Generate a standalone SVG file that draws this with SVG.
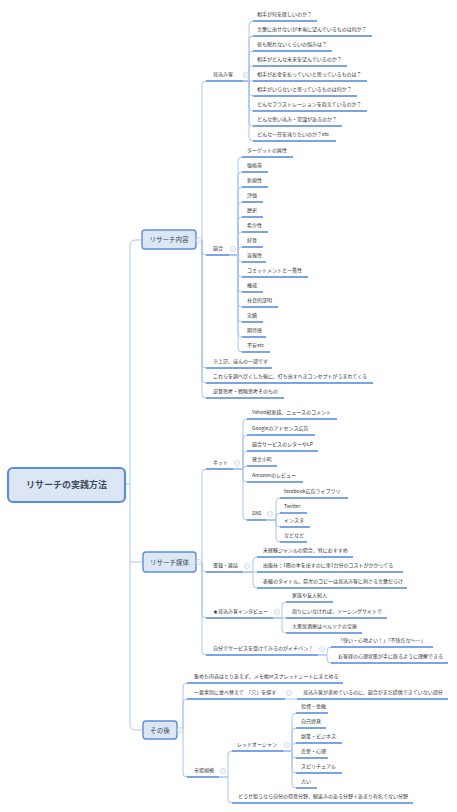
<svg xmlns="http://www.w3.org/2000/svg" width="457" height="812" viewBox="0 0 457 812">
<style>
text{font-family:"Noto Sans CJK JP","Noto Sans",sans-serif;font-size:5px;fill:#333}
.c{fill:none;stroke:#a9c5ef;stroke-width:1}
.u{fill:none;stroke:#4e86de;stroke-width:1.5}
.n{fill:#dce6f4;stroke:#5a8edb;stroke-width:1.4}
.nt{font-size:6.5px;fill:#3e4b61;text-anchor:middle}
.rt{font-size:9px;font-weight:bold;fill:#3e4b61;text-anchor:middle}
.k circle{fill:#fff;stroke:#b5c5db;stroke-width:0.6}
.k path{stroke:#b5c5db;stroke-width:0.6}
</style>
<rect width="457" height="812" fill="#fff"/>
<g id="connectors">
<path class="c" d="M125,484 H130 V246 Q130,240 136,240 H142"/>
<path class="c" d="M130,484 V724 Q130,730 136,730 H143"/>
<path class="c" d="M130,562 H143"/>
<path class="c" d="M196,240 H202 V85 Q202,81 206,81"/>
<path class="c" d="M196,240 H202 V251 Q202,255 206,255"/>
<path class="c" d="M196,240 H202 V364 Q202,368 206,368"/>
<path class="c" d="M196,240 H202 V379 Q202,383 206,383"/>
<path class="c" d="M196,240 H202 V394 Q202,398 206,398"/>
<path class="c" d="M243,81 H249 V25 Q249,21 253,21"/>
<path class="c" d="M243,81 H249 V40 Q249,36 253,36"/>
<path class="c" d="M243,81 H249 V55 Q249,51 253,51"/>
<path class="c" d="M243,81 H249 V70 Q249,66 253,66"/>
<path class="c" d="M243,81 H253"/>
<path class="c" d="M243,81 H249 V92 Q249,96 253,96"/>
<path class="c" d="M243,81 H249 V107 Q249,111 253,111"/>
<path class="c" d="M243,81 H249 V122 Q249,126 253,126"/>
<path class="c" d="M243,81 H249 V137 Q249,141 253,141"/>
<path class="c" d="M229,255 H238 V161 Q238,157 242,157"/>
<path class="c" d="M229,255 H238 V176 Q238,172 242,172"/>
<path class="c" d="M229,255 H238 V191 Q238,187 242,187"/>
<path class="c" d="M229,255 H238 V206 Q238,202 242,202"/>
<path class="c" d="M229,255 H238 V221 Q238,217 242,217"/>
<path class="c" d="M229,255 H238 V236 Q238,232 242,232"/>
<path class="c" d="M229,255 H238 V251 Q238,247 242,247"/>
<path class="c" d="M229,255 H238 V258 Q238,262 242,262"/>
<path class="c" d="M229,255 H238 V273 Q238,277 242,277"/>
<path class="c" d="M229,255 H238 V288 Q238,292 242,292"/>
<path class="c" d="M229,255 H238 V303 Q238,307 242,307"/>
<path class="c" d="M229,255 H238 V318 Q238,322 242,322"/>
<path class="c" d="M229,255 H238 V333 Q238,337 242,337"/>
<path class="c" d="M229,255 H238 V348 Q238,352 242,352"/>
<path class="c" d="M196,562 H202 V473 Q202,469 206,469"/>
<path class="c" d="M196,562 H202 V568 Q202,572 206,572"/>
<path class="c" d="M196,562 H202 V614 Q202,618 206,618"/>
<path class="c" d="M196,562 H202 V651 Q202,655 206,655"/>
<path class="c" d="M233,469 H243 V423 Q243,419 247,419"/>
<path class="c" d="M233,469 H243 V439 Q243,435 247,435"/>
<path class="c" d="M233,469 H243 V455 Q243,451 247,451"/>
<path class="c" d="M233,469 H243 V470 Q243,466 247,466"/>
<path class="c" d="M233,469 H243 V478 Q243,482 247,482"/>
<path class="c" d="M233,469 H243 V516 Q243,520 247,520"/>
<path class="c" d="M266,520 H276 V502 Q276,498 280,498"/>
<path class="c" d="M266,520 H276 V517 Q276,513 280,513"/>
<path class="c" d="M266,520 H276 V523 Q276,527 280,527"/>
<path class="c" d="M266,520 H276 V538 Q276,542 280,542"/>
<path class="c" d="M243,572 H253 V561 Q253,557 257,557"/>
<path class="c" d="M243,572 H257"/>
<path class="c" d="M243,572 H253 V584 Q253,588 257,588"/>
<path class="c" d="M273,618 H282 V606 Q282,602 286,602"/>
<path class="c" d="M273,618 H286"/>
<path class="c" d="M273,618 H282 V629 Q282,633 286,633"/>
<path class="c" d="M318,655 H327 V651 Q327,647 331,647"/>
<path class="c" d="M318,655 H327 V659 Q327,663 331,663"/>
<path class="c" d="M177,730 H183 V687 Q183,683 187,683"/>
<path class="c" d="M177,730 H183 V703 Q183,699 187,699"/>
<path class="c" d="M177,730 H183 V773 Q183,777 187,777"/>
<path class="c" d="M285,699 H297"/>
<path class="c" d="M219,777 H228 V755 Q228,751 232,751"/>
<path class="c" d="M219,777 H228 V799 Q228,803 232,803"/>
<path class="c" d="M282,751 H292 V717 Q292,713 296,713"/>
<path class="c" d="M282,751 H292 V732 Q292,728 296,728"/>
<path class="c" d="M282,751 H292 V747 Q292,743 296,743"/>
<path class="c" d="M282,751 H292 V754 Q292,758 296,758"/>
<path class="c" d="M282,751 H292 V769 Q292,773 296,773"/>
<path class="c" d="M282,751 H292 V784 Q292,788 296,788"/>
</g>
<g id="root"><rect class="n" x="8" y="468" width="117" height="34" rx="5" style="stroke-width:2.2"/><text class="rt" x="66.5" y="487.5">リサーチの実践方法</text></g>
<g id="n-naiyou"><rect class="n" x="142" y="230" width="54" height="19" rx="3"/><text class="nt" x="169" y="242">リサーチ内容</text></g>
<g id="n-baitai"><rect class="n" x="143" y="552" width="53" height="20" rx="3"/><text class="nt" x="169.5" y="564.5">リサーチ媒体</text></g>
<g id="n-sonogo"><rect class="n" x="143" y="721" width="34" height="18" rx="3"/><text class="nt" x="160" y="732.5">その後</text></g>
<g id="n-mikomi"><path class="u" d="M206,81 H243"/><text x="213" y="76">見込み客</text></g>
<g id="m1"><path class="u" d="M253,21 H317"/><text x="257" y="16">相手が何を欲しいのか？</text></g>
<g id="m2"><path class="u" d="M253,36 H372"/><text x="257" y="31">言葉に出せないが本当に望んでいるものは何か？</text></g>
<g id="m3"><path class="u" d="M253,51 H332"/><text x="257" y="46">夜も眠れないくらいの悩みは？</text></g>
<g id="m4"><path class="u" d="M253,66 H347"/><text x="257" y="61">相手がどんな未来を望んでいるのか？</text></g>
<g id="m5"><path class="u" d="M253,81 H367"/><text x="257" y="76">相手がお金を払っていいと思っているものは？</text></g>
<g id="m6"><path class="u" d="M253,96 H357"/><text x="257" y="91">相手がいらないと思っているものは何か？</text></g>
<g id="m7"><path class="u" d="M253,111 H367"/><text x="257" y="106">どんなフラストレーションを抱えているのか？</text></g>
<g id="m8"><path class="u" d="M253,126 H342"/><text x="257" y="121">どんな思い込み・常識があるのか？</text></g>
<g id="m9"><path class="u" d="M253,141 H336"/><text x="257" y="136">どんな一日を送りたいのか？etc</text></g>
<g id="n-kyougou"><path class="u" d="M206,255 H229"/><text x="213" y="250">競合</text></g>
<g id="k1"><path class="u" d="M242,157 H293"/><text x="247" y="152">ターゲットの属性</text></g>
<g id="k2"><path class="u" d="M242,172 H268"/><text x="247" y="167">価格帯</text></g>
<g id="k3"><path class="u" d="M242,187 H268"/><text x="247" y="182">新規性</text></g>
<g id="k4"><path class="u" d="M242,202 H263"/><text x="247" y="197">評価</text></g>
<g id="k5"><path class="u" d="M242,217 H263"/><text x="247" y="212">歴史</text></g>
<g id="k6"><path class="u" d="M242,232 H268"/><text x="247" y="227">希少性</text></g>
<g id="k7"><path class="u" d="M242,247 H263"/><text x="247" y="242">好意</text></g>
<g id="k8"><path class="u" d="M242,262 H266"/><text x="247" y="257">返報性</text></g>
<g id="k9"><path class="u" d="M242,277 H308"/><text x="247" y="272">コミットメントと一貫性</text></g>
<g id="k10"><path class="u" d="M242,292 H263"/><text x="247" y="287">権威</text></g>
<g id="k11"><path class="u" d="M242,307 H278"/><text x="247" y="302">社会的証明</text></g>
<g id="k12"><path class="u" d="M242,322 H263"/><text x="247" y="317">実績</text></g>
<g id="k13"><path class="u" d="M242,337 H266"/><text x="247" y="332">期待感</text></g>
<g id="k14"><path class="u" d="M242,352 H270"/><text x="247" y="347">不安etc</text></g>
<g id="n-note1"><path class="u" d="M206,368 H272"/><text x="213" y="363">※上記、ほんの一部です</text></g>
<g id="n-note2"><path class="u" d="M206,383 H373"/><text x="213" y="378">これらを調べ尽くした後に、打ち出すべきコンセプトがうまれてくる</text></g>
<g id="n-note3"><path class="u" d="M206,398 H284"/><text x="213" y="393">逆算思考・戦略思考そのもの</text></g>
<g id="n-net"><path class="u" d="M206,469 H233"/><text x="213" y="464">ネット</text></g>
<g id="w1"><path class="u" d="M247,419 H337"/><text x="252" y="414">Yahoo知恵袋、ニュースのコメント</text></g>
<g id="w2"><path class="u" d="M247,435 H315"/><text x="252" y="430">Googleのアドセンス広告</text></g>
<g id="w3"><path class="u" d="M247,451 H318"/><text x="252" y="446">競合サービスのレターやLP</text></g>
<g id="w4"><path class="u" d="M247,466 H277"/><text x="252" y="461">発言小町</text></g>
<g id="w5"><path class="u" d="M247,482 H303"/><text x="252" y="477">Amazonのレビュー</text></g>
<g id="n-sns"><path class="u" d="M247,520 H266"/><text x="252" y="515">SNS</text></g>
<g id="s1"><path class="u" d="M280,498 H348"/><text x="284" y="493">facebook広告ライブラリ</text></g>
<g id="s2"><path class="u" d="M280,513 H307"/><text x="284" y="508">Twitter</text></g>
<g id="s3"><path class="u" d="M280,527 H310"/><text x="284" y="522">インスタ</text></g>
<g id="s4"><path class="u" d="M280,542 H307"/><text x="284" y="537">などなど</text></g>
<g id="n-book"><path class="u" d="M206,572 H243"/><text x="213" y="567">書籍・雑誌</text></g>
<g id="b1"><path class="u" d="M257,557 H353"/><text x="263" y="552">未経験ジャンルの場合、特におすすめ</text></g>
<g id="b2"><path class="u" d="M257,572 H403"/><text x="263" y="567">出版社：1冊の本を出すのに車1台分のコストがかかってる</text></g>
<g id="b3"><path class="u" d="M257,588 H407"/><text x="263" y="583">表紙のタイトル、目次のコピーは見込み客に刺さる言葉だらけ</text></g>
<g id="n-interview"><path class="u" d="M206,618 H273"/><text x="213" y="613">★見込み客インタビュー</text></g>
<g id="i1"><path class="u" d="M286,602 H333"/><text x="292" y="597">家族や友人知人</text></g>
<g id="i2"><path class="u" d="M286,618 H387"/><text x="292" y="613">周りにいなければ、ソーシングサイトで</text></g>
<g id="i3"><path class="u" d="M286,633 H362"/><text x="292" y="628">大衆居酒屋はペルソナの宝庫</text></g>
<g id="n-self"><path class="u" d="M206,655 H318"/><text x="213" y="650">自分でサービスを受けてみるのがイチバン！</text></g>
<g id="f1"><path class="u" d="M331,647 H433"/><text x="338" y="642">「快い・心地よい！」「不快だな〜…」</text></g>
<g id="f2"><path class="u" d="M331,663 H448"/><text x="338" y="658">お客様の心理状態が手に取るように理解できる</text></g>
<g id="n-memo"><path class="u" d="M187,683 H343"/><text x="194" y="678">集めた内容はとりあえず、メモ帳orスプレッドシートにまとめる</text></g>
<g id="n-ana"><path class="u" d="M187,699 H285"/><text x="194" y="694">一要素別に並べ替えて　「穴」を探す</text></g>
<g id="a1"><path class="u" d="M297,699 H448"/><text x="303" y="694">見込み客が求めているのに、競合がまだ提供できていない部分</text></g>
<g id="n-market"><path class="u" d="M187,777 H219"/><text x="194" y="772">市場規模</text></g>
<g id="n-red"><path class="u" d="M232,751 H283"/><text x="237" y="746">レッドオーシャン</text></g>
<g id="r1"><path class="u" d="M296,713 H328"/><text x="301" y="708">投資・金融</text></g>
<g id="r2"><path class="u" d="M296,728 H326"/><text x="301" y="723">自己啓発</text></g>
<g id="r3"><path class="u" d="M296,743 H342"/><text x="301" y="738">副業・ビジネス</text></g>
<g id="r4"><path class="u" d="M296,758 H328"/><text x="301" y="753">恋愛・心理</text></g>
<g id="r5"><path class="u" d="M296,773 H342"/><text x="301" y="768">スピリチュアル</text></g>
<g id="r6"><path class="u" d="M296,788 H317"/><text x="301" y="783">占い</text></g>
<g id="n-niche"><path class="u" d="M232,803 H413"/><text x="238" y="798">どうせ狙うなら自分の得意分野、馴染みのある分野＋あまり有名でない分野</text></g>
<g id="collapse" class="k">
<circle cx="199" cy="240" r="2.6"/><path d="M197.7,240 H200.3"/>
<circle cx="199" cy="562" r="2.6"/><path d="M197.7,562 H200.3"/>
<circle cx="180" cy="730" r="2.6"/><path d="M178.7,730 H181.3"/>
<circle cx="246" cy="75" r="2.6"/><path d="M244.7,75 H247.3"/>
<circle cx="233" cy="249" r="2.6"/><path d="M231.7,249 H234.3"/>
<circle cx="237" cy="463" r="2.6"/><path d="M235.7,463 H238.3"/>
<circle cx="270" cy="514" r="2.6"/><path d="M268.7,514 H271.3"/>
<circle cx="247" cy="566" r="2.6"/><path d="M245.7,566 H248.3"/>
<circle cx="277" cy="612" r="2.6"/><path d="M275.7,612 H278.3"/>
<circle cx="322" cy="649" r="2.6"/><path d="M320.7,649 H323.3"/>
<circle cx="289" cy="693" r="2.6"/><path d="M287.7,693 H290.3"/>
<circle cx="223" cy="771" r="2.6"/><path d="M221.7,771 H224.3"/>
<circle cx="287" cy="745" r="2.6"/><path d="M285.7,745 H288.3"/>
</g>
</svg>
